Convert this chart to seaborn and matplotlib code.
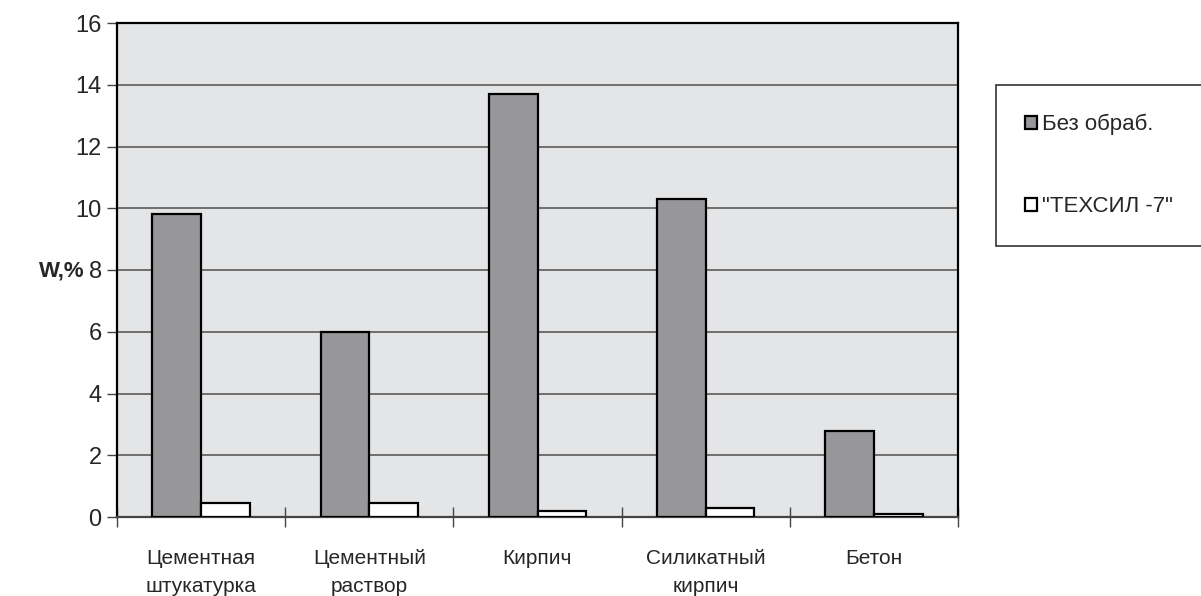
import numpy as np
import pandas as pd
import matplotlib
matplotlib.use("Agg")
import matplotlib.pyplot as plt
import seaborn as sns
from matplotlib.patches import Patch

# данные с графика
materials = ["Цементная\nштукатурка", "Цементный\nраствор", "Кирпич",
             "Силикатный\nкирпич", "Бетон"]
series_names = ["Без обраб.", '"ТЕХСИЛ -7"']
untreated = [9.8, 6.0, 13.7, 10.3, 2.8]
texsil = [0.45, 0.45, 0.2, 0.3, 0.1]
y_ticks = [0, 2, 4, 6, 8, 10, 12, 14, 16]

df = pd.DataFrame({
    "material": materials * 2,
    "W": untreated + texsil,
    "series": [series_names[0]] * len(materials) + [series_names[1]] * len(materials),
})

sns.set_style("white")
plt.rcParams["font.family"] = ["Liberation Sans", "DejaVu Sans"]

fig = plt.figure(figsize=(12.01, 5.96), dpi=100)
ax = fig.add_axes([117 / 1201, 1 - 517 / 596, (958 - 117) / 1201, (517 - 23) / 596])
ax.set_facecolor("#E4E5E7")

sns.barplot(data=df, x="material", y="W", hue="series", order=materials,
            hue_order=series_names, palette=["#96979A", "#FFFFFF"],
            edgecolor="black", linewidth=1.6, width=0.58, gap=0,
            ax=ax, legend=False, zorder=3)

ax.set_ylim(0, 16)
ax.set_xlim(-0.5, len(materials) - 0.5)
ax.set_yticks(y_ticks)
ax.yaxis.grid(True, color="#5A5A5A", linewidth=1.2, zorder=0)
ax.set_axisbelow(True)

# тики на границах категорий, подписи по центру
ax.set_xticks(np.arange(-0.5, len(materials), 1.0))
ax.set_xticklabels([])
ax.set_xticks(np.arange(len(materials)), minor=True)
ax.set_xticklabels(materials, minor=True, fontsize=15, linespacing=1.58)
ax.tick_params(axis="x", which="major", bottom=True, direction="inout",
               length=14, width=1, color="#444444")
ax.tick_params(axis="x", which="minor", bottom=True, length=0, pad=23)
ax.tick_params(axis="y", left=True, direction="out", length=7, width=1,
               color="#444444", labelsize=17, pad=4)
ax.set_xlabel("")
ax.set_ylabel("")

for side in ["top", "right", "left"]:
    ax.spines[side].set_color("black")
    ax.spines[side].set_linewidth(1.6)
ax.spines["bottom"].set_color("#444444")
ax.spines["bottom"].set_linewidth(1.6)

fig.text(62 / 1201, 1 - 271 / 596, "W,%", fontsize=16, fontweight="bold",
         ha="center", va="center")

# легенда
handles = [Patch(facecolor="#96979A", edgecolor="black", linewidth=1.6),
           Patch(facecolor="white", edgecolor="black", linewidth=1.6)]
leg = fig.legend(handles, series_names, loc="upper left",
                 bbox_to_anchor=(996 / 1201, 1 - 85 / 596, 0.2, 0.0),
                 mode="expand", fontsize=16, frameon=True, fancybox=False,
                 edgecolor="black", handlelength=0.55, handleheight=0.55,
                 handletextpad=0.2, labelspacing=2.75, borderpad=1.3,
                 borderaxespad=0)
leg.get_frame().set_linewidth(1.2)

fig.savefig("out.png", dpi=100)
